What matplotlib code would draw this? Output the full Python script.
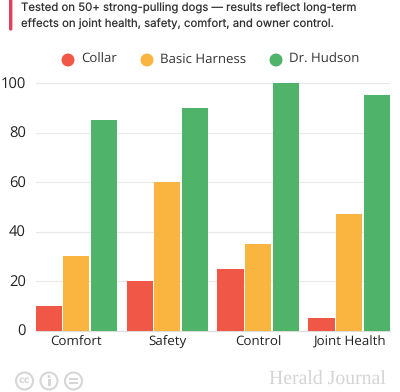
import numpy as np
import matplotlib
matplotlib.use("Agg")
import matplotlib.pyplot as plt
from matplotlib.patches import Circle, Rectangle, FancyBboxPatch

plt.rcParams["text.hinting"] = "none"

categories = ["Comfort", "Safety", "Control", "Joint Health"]
series_names = ["Collar", "Basic Harness", "Dr. Hudson"]
collar = [10, 20, 25, 5]
basic_harness = [30, 60, 35, 47]
dr_hudson = [85, 90, 100, 95]
y_ticks = [0, 20, 40, 60, 80, 100]
note_lines = ["Tested on 50+ strong-pulling dogs \u2014 results reflect long-term",
              "effects on joint health, safety, comfort, and owner control."]
credit = "Herald Journal"

colors = ["#F15746", "#F9B53F", "#4FB36A"]
W, H = 400, 392

fig = plt.figure(figsize=(W / 100, H / 100), dpi=100, facecolor="white")

# overlay in pixel coordinates for the note, legend and footer
over = fig.add_axes([0, 0, 1, 1], zorder=0)
over.set_xlim(0, W)
over.set_ylim(H, 0)
over.axis("off")

ax = fig.add_axes([35.5 / W, 1 - 330.5 / H, 354.5 / W, 247.5 / H], zorder=1)
ax.patch.set_alpha(0)

x = np.arange(len(categories))
for offset, values, color in zip((-0.304, 0, 0.304), (collar, basic_harness, dr_hudson), colors):
    ax.bar(x + offset, values, width=0.288, color=color, zorder=3)

ax.set_xlim(-0.45, 3.45)
ax.set_ylim(0, 100)
ax.set_yticks(y_ticks)
ax.set_xticks(x)
ax.set_xticklabels(categories, fontfamily="Open Sans", fontsize=9.6, color="#222222")
ax.tick_params(axis="both", length=0)
ax.tick_params(axis="x", pad=4)
ax.tick_params(axis="y", pad=7)
for label in ax.get_yticklabels():
    label.set_fontfamily("Open Sans")
    label.set_fontsize(10.6)
    label.set_color("#222222")
ax.grid(axis="y", color="#E8E8E8", linewidth=0.9, zorder=0)
ax.set_axisbelow(True)
for side in ["top", "right", "left"]:
    ax.spines[side].set_visible(False)
ax.spines["bottom"].set_color("#DDDDDD")
ax.spines["bottom"].set_linewidth(0.9)

# note with red rule
over.add_patch(FancyBboxPatch((9, -5), 3.4, 35.5, boxstyle="round,pad=0,rounding_size=1.2",
                              fc="#E0405A", ec="none"))
for yy, line in zip((8.5, 24), note_lines):
    over.text(21, yy, line, fontfamily="Inter", fontsize=8.2, color="#333333", va="center", ha="left")

# legend
for cx, tx, name, color in zip((68, 147, 276), (81, 160, 289), series_names, colors):
    over.add_patch(Circle((cx, 60), 6.5, fc=color, ec="none"))
    over.text(tx, 59.5, name, fontfamily="Open Sans", fontsize=9.5, color="#333333", va="center", ha="left")

# footer
icon = "#D6D6D6"
for cx in (24.5, 49, 73.5):
    over.add_patch(Circle((cx, 381), 8.5, fc="none", ec=icon, lw=1.5))
over.text(24.5, 380.5, "cc", fontfamily="DejaVu Sans", fontweight="bold", fontsize=7, color=icon,
          ha="center", va="center")
over.add_patch(Circle((49, 376.5), 1.5, fc=icon, ec="none"))
over.add_patch(Rectangle((47.5, 379), 3, 7, fc=icon, ec="none"))
over.add_patch(Rectangle((69, 378), 9, 1.8, fc=icon, ec="none"))
over.add_patch(Rectangle((69, 382.2), 9, 1.8, fc=icon, ec="none"))
over.text(386, 380, credit, fontfamily="Liberation Serif", fontsize=14.2, color="#D4D4D4",
          ha="right", va="center")

fig.savefig("out.png", dpi=100)
